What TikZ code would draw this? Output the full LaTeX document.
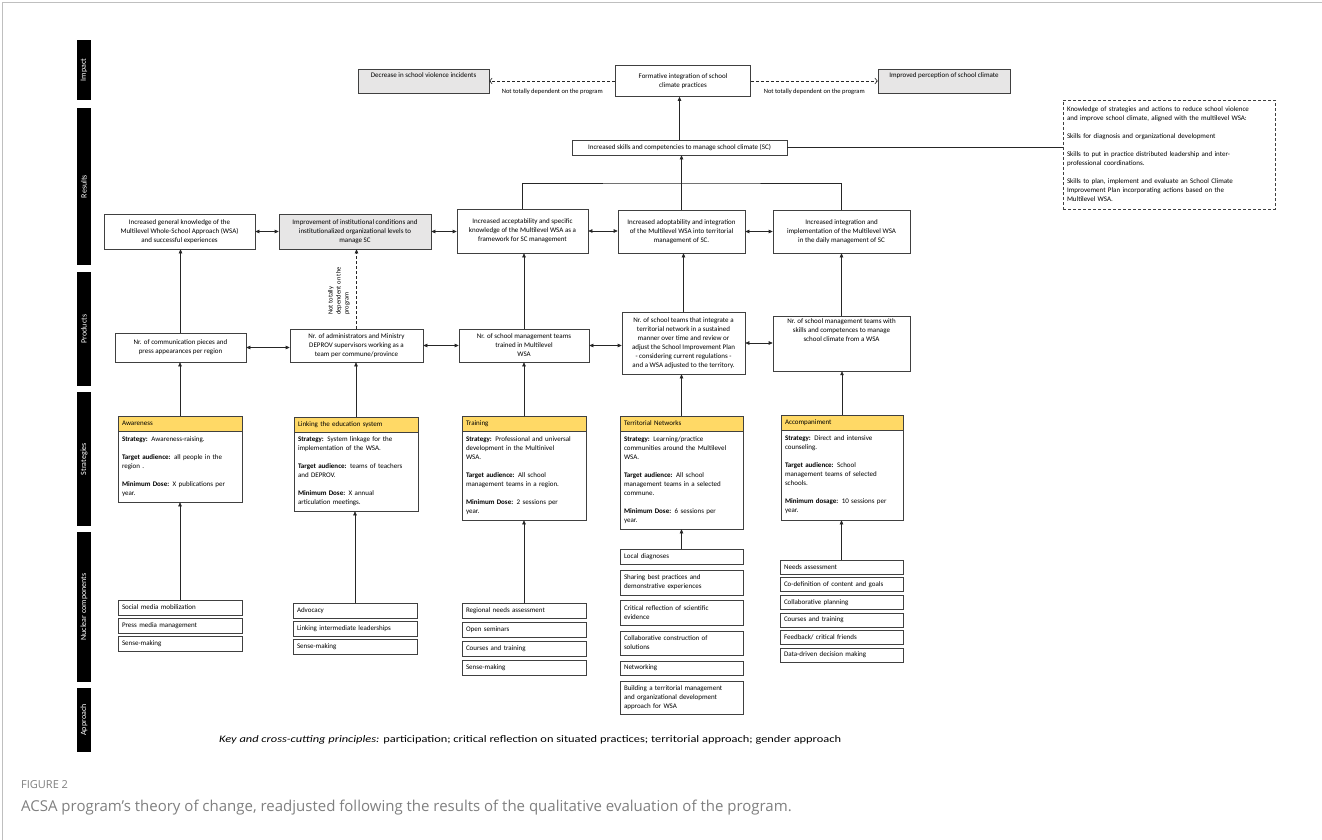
\documentclass[tikz,border=0pt]{standalone}
\usepackage{fontspec}
\setmainfont{Carlito}
\newfontfamily\capfont{Open Sans}
\usetikzlibrary{arrows.meta}
\definecolor{headyellow}{HTML}{FFD966}
\definecolor{softgray}{HTML}{E7E6E6}
\definecolor{capgray}{HTML}{7F7F7F}

\begin{document}
\begin{tikzpicture}[
    x=1pt, y=-1pt,
    every node/.style = {font=\fontsize{7}{9}\selectfont, inner sep=3pt},
    box/.style = {draw=black!75, line width=0.6pt, fill=white, align=center},
    greybox/.style = {box, fill=softgray},
    boxsize/.style 2 args = {minimum width=#1pt, minimum height=#2pt},
    leftsize/.style 2 args = {minimum width=#1pt, minimum height=#2pt,
      text width=#1pt-8pt, inner xsep=4pt, align=left},
    stratHead/.style = {box, fill=headyellow, leftsize={#1}{15}},
    dashbox/.style = {draw=black!75, line width=0.6pt, dash pattern=on 3pt off 2pt},
    bar/.style = {fill=black, text=white, rotate=90, minimum height=14pt,
      inner sep=0pt, font=\fontsize{8}{9}\selectfont},
    note/.style = {font=\fontsize{6.5}{8}\selectfont, inner sep=1pt},
    wire/.style = {draw=black!85, line width=0.6pt},
    uparrow/.style = {wire, -{Triangle[length=4pt, width=3.5pt]}},
    twoway/.style = {wire, {Triangle[length=4pt, width=3.5pt]}-{Triangle[length=4pt, width=3.5pt]}},
    dasharrow/.style = {wire, dash pattern=on 3pt off 2pt, -{Straight Barb[length=2.5pt, width=6pt]}}
  ]
  \useasboundingbox (0,0) rectangle (1322,840);
  \draw[gray!50, line width=0.8pt] (2,840) -- (2,2) -- (1322,2);

  \foreach \lab/\ya/\yb [count=\i] in {Impact/40/100, Results/108/265, Products/272/386,
      Strategies/392/526, Nuclear components/532/682, Approach/688/752}
    \node[bar, minimum width=\yb pt-\ya pt] (bar\i) at (84,{(\ya+\yb)/2}) {\lab};

  \node[greybox, boxsize={131}{24}, text height=6pt, text depth=12pt] (decrease) at (423.5,81)
    {Decrease in school violence incidents};
  \node[box, boxsize={135}{31}] (formative) at (683,81)
    {Formative integration of school\\climate practices};
  \node[greybox, boxsize={132}{24}, text height=6pt, text depth=12pt] (perception) at (944,81)
    {Improved perception of school climate};
  \draw[dasharrow] (formative.west) -- node[note, below=7pt] (nodep1)
    {Not totally dependent on the program} (decrease.east);
  \draw[dasharrow] (formative.east) -- node[note, below=7pt] (nodep2)
    {Not totally dependent on the program} (perception.west);

  \node[box, boxsize={215}{15}] (skills) at (679.5,147.5)
    {Increased skills and competencies to manage school climate (SC)};
  \draw[uparrow] (skills.north) -- (skills.north |- formative.south);
  \node[dashbox, leftsize={212}{109}] (skillset) at (1169,154.5)
    {Knowledge of strategies and actions to reduce school violence\\
     and improve school climate, aligned with the multilevel WSA:\\[9pt]
     Skills for diagnosis and organizational development\\[9pt]
     Skills to put in practice distributed leadership and inter-\\
     professional coordinations.\\[9pt]
     Skills to plan, implement and evaluate an School Climate\\
     Improvement Plan incorporating actions based on the\\
     Multilevel WSA.};
  \draw[wire] (skills.east) -- (skillset.west |- skills.east);

  \node[box, boxsize={151}{35}] (r1) at (179.5,231.5)
    {Increased general knowledge of the\\Multilevel Whole-School Approach (WSA)\\and successful experiences};
  \node[greybox, boxsize={152}{35}] (r2) at (355,231.5)
    {Improvement of institutional conditions and\\institutionalized organizational levels to\\manage SC};
  \node[box, boxsize={131}{44}] (r3) at (522.5,231)
    {Increased acceptability and specific\\knowledge of the Multilevel WSA as a\\framework for SC management};
  \node[box, boxsize={127}{43}] (r4) at (681.5,231.5)
    {Increased adoptability and integration\\of the Multilevel WSA into territorial\\management of SC.};
  \node[box, boxsize={137}{43}] (r5) at (841.5,231.5)
    {Increased integration and\\implementation of the Multilevel WSA\\in the daily management of SC};
  \coordinate (join) at (681.5,183);
  \draw[wire] (r3.north) |- (join) -| (r5.north);
  \draw[wire] (r4.north) -- (join);
  \draw[uparrow] (join) -- (join |- skills.south);

  \node[box, boxsize={131}{29}] (p1) at (180.5,347.5)
    {Nr. of communication pieces and\\press appearances per region};
  \node[box, boxsize={133}{33}] (p2) at (356.5,345.5)
    {Nr. of administrators and Ministry\\DEPROV supervisors working as a\\team per commune/province};
  \node[box, boxsize={130}{33}] (p3) at (524,345.5)
    {Nr. of school management teams\\trained in Multilevel\\WSA};
  \node[box, boxsize={123}{62}] (p4) at (683.5,343)
    {Nr. of school teams that integrate a\\territorial network in a sustained\\manner over time and review or\\
     adjust the School Improvement Plan\\- considering current regulations -\\and a WSA adjusted to the territory.};
  \node[box, boxsize={137}{53}] (p5) at (841.5,343.5)
    {Nr. of school management teams with\\skills and competences to manage\\school climate from a WSA\\[17pt]~};

  \foreach \a/\b in {r1/r2, r2/r3, r3/r4, r4/r5, p1/p2, p2/p3, p3/p4, p4/p5}
    \draw[twoway] (\a.east) -- (\b.west |- \a.east);
  \foreach \n in {1,3,4,5}
    \draw[uparrow] (p\n.north) -- (p\n.north |- r\n.south);
  \draw[uparrow, dash pattern=on 3pt off 2pt] (p2.north) -- (p2.north |- r2.south);
  \node[note, rotate=90, align=left] (nodep3) at (339,291) {Not totally\\dependent on the\\program};

  \foreach \n/\x/\w/\y/\title in {1/180/124/423.5/Awareness, 2/356/124/424.5/Linking the education system,
      3/524/124/423.5/Training, 4/681.5/123/423.5/Territorial Networks, 5/842/122/422.5/Accompaniment}
    \node[stratHead=\w] (sh\n) at (\x,\y) {\title};
  \node[box, leftsize={124}{71}] (s1) at (180,466.5)
    {\textbf{Strategy:} Awareness-raising.\\[9pt]
     \textbf{Target audience:} all people in the\\region .\\[9pt]
     \textbf{Minimum Dose:} X publications per\\year.};
  \node[box, leftsize={124}{79}] (s2) at (356,471.5)
    {\textbf{Strategy:} System linkage for the\\implementation of the WSA.\\[9pt]
     \textbf{Target audience:} teams of teachers\\and DEPROV.\\[9pt]
     \textbf{Minimum Dose:} X annual\\articulation meetings.};
  \node[box, leftsize={124}{89}] (s3) at (524,475.5)
    {\textbf{Strategy:} Professional and universal\\development in the Multinivel\\WSA.\\[9pt]
     \textbf{Target audience:} All school\\management teams in a region.\\[9pt]
     \textbf{Minimum Dose:} 2 sessions per\\year.};
  \node[box, leftsize={123}{98}] (s4) at (681.5,480)
    {\textbf{Strategy:} Learning/practice\\communities around the Multilevel\\WSA.\\[9pt]
     \textbf{Target audience:} All school\\management teams in a selected\\commune.\\[9pt]
     \textbf{Minimum Dose:} 6 sessions per\\year.};
  \node[box, leftsize={122}{90}] (s5) at (842,475)
    {\textbf{Strategy:} Direct and intensive\\counseling.\\[9pt]
     \textbf{Target audience:} School\\management teams of selected\\schools.\\[9pt]
     \textbf{Minimum dosage:} 10 sessions per\\year.};
  \foreach \n in {1,...,5}
    \draw[uparrow] (sh\n.north) -- (sh\n.north |- p\n.south);

  \foreach \t [count=\i] in {Social media mobilization, Press media management, Sense-making}
    \node[box, leftsize={124}{15}] (ca\i) at (180,{589.5+18*\i}) {\t};
  \foreach \t [count=\i] in {Advocacy, Linking intermediate leaderships, Sense-making}
    \node[box, leftsize={124}{15}] (cb\i) at (355,{592.5+18*\i}) {\t};
  \foreach \t [count=\i] in {Regional needs assessment, Open seminars, Courses and training, Sense-making}
    \node[box, leftsize={124}{15}] (cc\i) at (524,{591.5+19*\i}) {\t};
  \node[box, leftsize={123}{15}] (cd1) at (681.5,557) {Local diagnoses};
  \node[box, leftsize={123}{25}] (cd2) at (681.5,582.5) {Sharing best practices and\\demonstrative experiences};
  \node[box, leftsize={123}{25}] (cd3) at (681.5,612.5) {Critical reflection of scientific\\evidence};
  \node[box, leftsize={123}{24}] (cd4) at (681.5,643) {Collaborative construction of\\solutions};
  \node[box, leftsize={123}{14}] (cd5) at (681.5,668) {Networking};
  \node[box, leftsize={123}{33}] (cd6) at (681.5,697.5)
    {Building a territorial management\\and organizational development\\approach for WSA};
  \foreach \t [count=\i] in {Needs assessment, Co-definition of content and goals, Collaborative planning,
      Courses and training, Feedback/ critical friends, Data-driven decision making}
    \node[box, leftsize={123}{14}] (ce\i) at (841.5,{549.4+17.6*\i}) {\t};
  \draw[uparrow] (ca1.north) -- (ca1.north |- s1.south);
  \draw[uparrow] (cb1.north) -- (cb1.north |- s2.south);
  \draw[uparrow] (cc1.north) -- (cc1.north |- s3.south);
  \draw[uparrow] (cd1.north) -- (cd1.north |- s4.south);
  \draw[uparrow] (ce1.north) -- (ce1.north |- s5.south);

  \node[anchor=west, font=\fontsize{10}{12}\selectfont] (keyp) at (216,740)
    {\scalebox{1.24}[1]{\textit{Key and cross-cutting principles:} participation; critical reflection on situated practices; territorial approach; gender approach}};

  \node[anchor=west, text=capgray, font=\capfont\fontsize{11}{13}\selectfont] (figno) at (18,785) {FIGURE 2};
  \node[anchor=west, text=capgray, font=\capfont\fontsize{15}{17}\selectfont] (caption) at (18,808)
    {ACSA program’s theory of change, readjusted following the results of the qualitative evaluation of the program.};
\end{tikzpicture}
\end{document}
